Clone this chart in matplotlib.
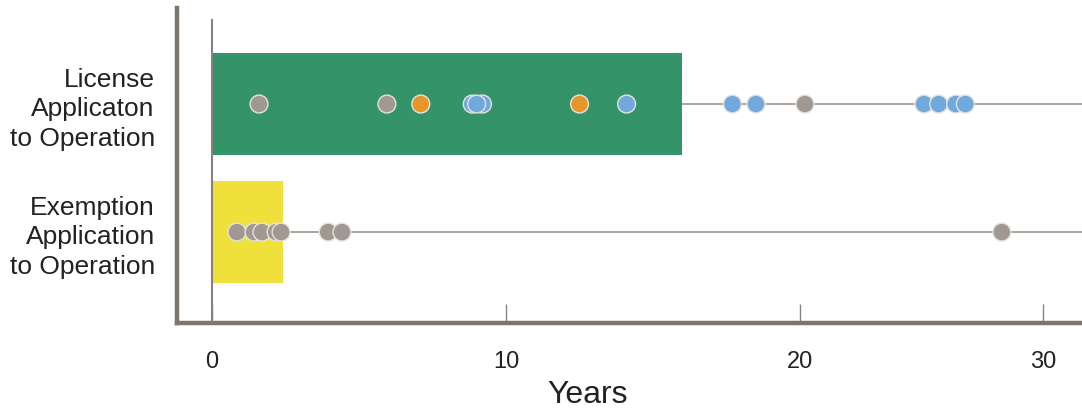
import numpy as np
import matplotlib.pyplot as plt

plt.rcParams['font.family'] = ['Liberation Sans', 'DejaVu Sans']

# rows, top to bottom
rows = ['License\nApplicaton\nto Operation', 'Exemption\nApplication\nto Operation']
row_pos = [1, 0]
bar_years = [16.0, 2.4]
bar_colors = ['#35936a', '#efe03c']

# individual projects (years), with dot category
license_years = [1.6, 5.95, 7.1, 8.85, 9.2, 9.0, 12.5, 14.1,
                 17.7, 18.5, 20.2, 25.1, 25.7, 26.4, 26.8]
license_kind = ['gray', 'gray', 'orange', 'blue', 'blue', 'blue', 'orange', 'blue',
                'blue', 'blue', 'gray', 'blue', 'blue', 'blue', 'blue']
exempt_years = [0.85, 1.43, 1.7, 2.18, 2.35, 3.95, 4.42, 28.3]
exempt_kind = ['gray'] * len(exempt_years)

kind_colors = {'gray': '#a09891', 'orange': '#e8962a', 'blue': '#72a9dc'}
xticks = [0, 10, 20, 30]

# the reference axis is compressed past 20 years
K = 243 / 294


def fwd(x):
    x = np.asarray(x, float)
    return np.where(x <= 20, x, 20 + (x - 20) * K)


def inv(y):
    y = np.asarray(y, float)
    return np.where(y <= 20, y, 20 + (y - 20) / K)


fig = plt.figure(figsize=(10.82, 4.12), dpi=100)
ax = fig.add_axes([177 / 1082, 1 - 323 / 412, 1 - 177 / 1082, (323 - 8) / 412])
ax.set_xscale('function', functions=(fwd, inv))
ax.set_xlim(-1.19, 31.6)
ax.set_ylim(-0.71, 1.75)

line_c = '#aaa49e'
for y in row_pos:
    ax.plot([0, 31.6], [y, y], color=line_c, lw=1.4, zorder=1, clip_on=False)

ax.barh(row_pos, bar_years, height=0.8, color=bar_colors, left=0, zorder=2)
ax.plot([0, 0], [-0.71, 1.66], color='#8a837c', lw=1.5, zorder=3)

for y, xs, ks in [(1, license_years, license_kind), (0, exempt_years, exempt_kind)]:
    ax.scatter(xs, [y] * len(xs), s=165, c=[kind_colors[k] for k in ks],
               edgecolors='#e6e2dd', linewidths=1.0, zorder=4)

spine_c = '#7d766f'
for s in ['top', 'right']:
    ax.spines[s].set_visible(False)
for s in ['left', 'bottom']:
    ax.spines[s].set_color(spine_c)
    ax.spines[s].set_linewidth(3.2)

ax.set_xticks(xticks)
ax.set_xticklabels([str(t) for t in xticks])
ax.tick_params(axis='x', direction='in', length=14, width=1.0, color='#8a837c',
               labelsize=17, pad=20, labelcolor='#222222')
ax.set_yticks(row_pos)
ax.set_yticklabels(rows, fontsize=19, linespacing=1.3, color='#222222', ha='right')
ax.tick_params(axis='y', length=0, pad=16)
ax.set_xlabel('Years', fontsize=23, color='#222222')
ax.xaxis.set_label_coords((588 - 177) / (1082 - 177), -(380 - 323) / 315)

fig.savefig('out.png', dpi=100)
